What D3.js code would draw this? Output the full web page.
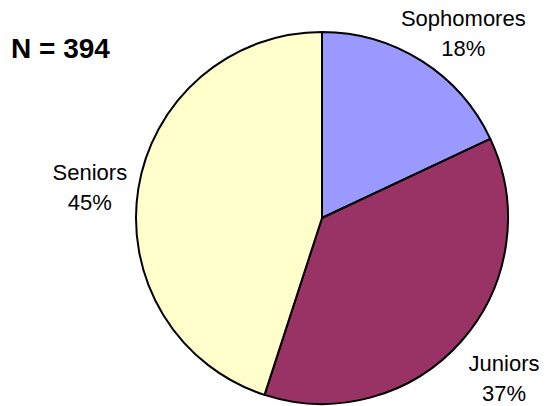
<!DOCTYPE html>
<html>
<head>
<meta charset="utf-8">
<script src="https://cdn.jsdelivr.net/npm/d3@7"></script>
<style>
  body { margin: 0; background: #fff; }
  svg { display: block; font-family: Arial, "Liberation Sans", sans-serif; }
</style>
</head>
<body>
<svg id="chart" width="545" height="406"></svg>
<script>
// --- Data ---
const classes = ['Sophomores', 'Juniors', 'Seniors'];
const percents = [18, 37, 45];
const colors = ['#9999FF', '#993366', '#FFFFCC'];
const sampleSize = 394;

// --- Layout ---
const width = 545, height = 406;
const cx = 322, cy = 218, radius = 186;
const labelRadius = 232;
const lineGap = 30;
// small per-label shifts so the text sits where the original chart put it
const labelNudge = { Sophomores: [17, 11], Juniors: [8, 7], Seniors: [-3, 5] };

const svg = d3.select('#chart');

const slices = classes.map((name, i) => ({ name, value: percents[i], color: colors[i] }));

const pie = d3.pie()
    .value(d => d.value)
    .sort(null);

const arc = d3.arc().innerRadius(0).outerRadius(radius);
const labelArc = d3.arc().innerRadius(labelRadius).outerRadius(labelRadius);

const g = svg.append('g').attr('transform', `translate(${cx},${cy})`);

g.selectAll('path')
    .data(pie(slices))
    .join('path')
    .attr('d', arc)
    .attr('fill', d => d.data.color)
    .attr('stroke', '#000')
    .attr('stroke-width', 2)
    .attr('stroke-linejoin', 'round');

const labels = g.selectAll('text.label')
    .data(pie(slices))
    .join('text')
    .attr('class', 'label')
    .attr('text-anchor', 'middle')
    .attr('font-size', 22)
    .attr('fill', '#000')
    .attr('transform', d => {
        const [x, y] = labelArc.centroid(d);
        const [dx, dy] = labelNudge[d.data.name];
        return `translate(${x + dx},${y + dy})`;
    });

labels.append('tspan')
    .attr('x', 0)
    .attr('y', -lineGap / 2 + 8)
    .text(d => d.data.name);

labels.append('tspan')
    .attr('x', 0)
    .attr('y', lineGap / 2 + 8)
    .text(d => d3.format('d')(d.data.value) + '%');

svg.append('text')
    .attr('x', 11)
    .attr('y', 58)
    .attr('font-size', 28)
    .attr('font-weight', 'bold')
    .text(`N = ${sampleSize}`);
</script>
</body>
</html>
